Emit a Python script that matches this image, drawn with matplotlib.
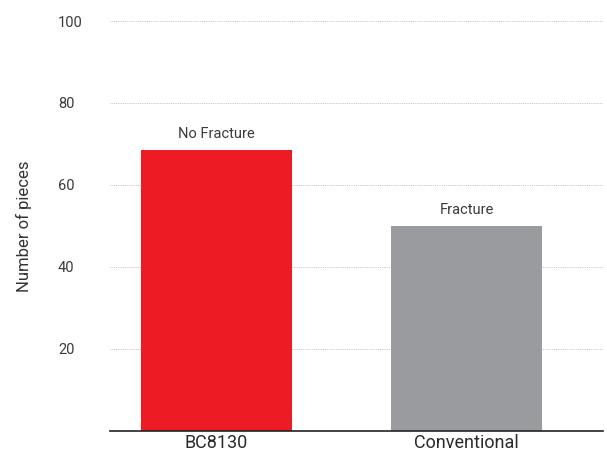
import matplotlib
matplotlib.use("Agg")
import matplotlib.pyplot as plt

categories = ["BC8130", "Conventional"]
values = [68.6, 50]
annotations = ["No Fracture", "Fracture"]
colors = ["#ED1C24", "#9A9B9F"]
yticks = [20, 40, 60, 80, 100]

plt.rcParams['font.family'] = ['Roboto', 'DejaVu Sans']

fig = plt.figure(figsize=(6.07, 4.55), dpi=100)
ax = fig.add_axes([110/607, 24/455, (603-110)/607, (434-24)/455])

x = list(range(len(categories)))
bars = ax.bar(x, values, width=0.603, color=colors, zorder=3)
for xi, v, t in zip(x, values, annotations):
    ax.text(xi, v + 2.2, t, ha='center', va='bottom', fontsize=10.5, color='#3a3a3a')

ax.set_xlim(-0.424, 1.544)
ax.set_ylim(0, 100)
ax.set_xticks(x)
ax.set_xticklabels(categories, fontsize=13, color='#2a2a2a')
ax.set_yticks(yticks)
ax.set_yticklabels([str(t) for t in yticks], fontsize=10.5, color='#3a3a3a')
for lab in ax.get_yticklabels():
    lab.set_horizontalalignment('left')
ax.tick_params(axis='y', length=0, pad=37.5)
ax.tick_params(axis='x', length=0, pad=2.5)
ax.yaxis.grid(True, linestyle=(0, (1, 1.2)), color='#b5b5b5', linewidth=0.6, zorder=0)
for s in ['top', 'right', 'left']:
    ax.spines[s].set_visible(False)
ax.spines['bottom'].set_color('#222222')
ax.spines['bottom'].set_linewidth(1.2)
ax.spines['bottom'].set_zorder(4)
ax.set_ylabel("Number of pieces", fontsize=12, color='#333333', labelpad=19)

fig.savefig("out.png", dpi=100)
